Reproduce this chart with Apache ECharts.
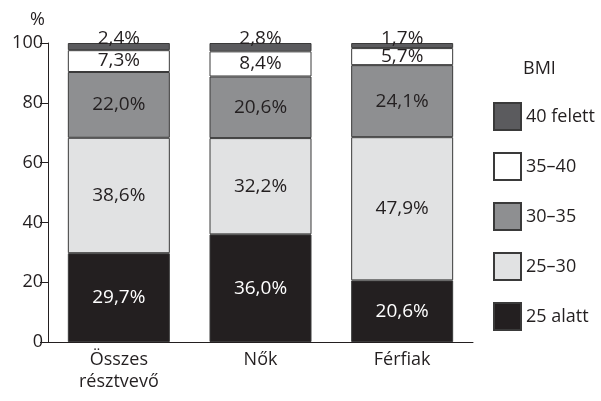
<!DOCTYPE html>
<html>
<head>
<meta charset="utf-8">
<script src="https://cdn.jsdelivr.net/npm/echarts@6/dist/echarts.min.js"></script>
<style>
  html, body { margin: 0; padding: 0; background: #fff; }
  #main { width: 601px; height: 401px; }
</style>
</head>
<body>
<div id="main"></div>
<script>
var categories = ['Összes\nrésztvevő', 'Nők', 'Férfiak'];
var alatt25 = [29.7, 36.0, 20.6];
var bmi25_30 = [38.6, 32.2, 47.9];
var bmi30_35 = [22.0, 20.6, 24.1];
var bmi35_40 = [7.3, 8.4, 5.7];
var felett40 = [2.4, 2.8, 1.7];
var yTicks = [0, 20, 40, 60, 80, 100];

var ink = '#231f20';
var font = 'Open Sans';
var fs = 18;

function fmt(p) {
  return p.value.toFixed(1).replace('.', ',') + '%';
}

function makeSeries(name, data, color, textColor, top) {
  return {
    name: name,
    type: 'bar',
    stack: 'bmi',
    data: data,
    barWidth: 102,
    itemStyle: { color: color, borderColor: '#3a3a3a', borderWidth: 1 },
    label: {
      show: true,
      position: top ? 'top' : 'inside',
      distance: top ? -5 : 5,
      formatter: fmt,
      color: textColor,
      fontFamily: font,
      fontSize: 19
    }
  };
}

var myChart = echarts.init(document.getElementById('main'));
var option = {
  animation: false,
  textStyle: { fontFamily: font, color: ink },
  grid: { left: 48, right: 128, top: 43, bottom: 59 },
  legend: {
    orient: 'vertical',
    left: 488,
    top: 97,
    icon: 'rect',
    itemWidth: 27,
    itemHeight: 27,
    itemGap: 21,
    textStyle: { fontFamily: font, fontSize: fs, color: ink },
    data: ['40 felett', '35–40', '30–35', '25–30', '25 alatt']
  },
  graphic: [{
    type: 'text',
    left: 523,
    top: 60,
    style: { text: 'BMI', font: fs + 'px "Open Sans"', fill: ink }
  }],
  xAxis: {
    type: 'category',
    data: categories,
    axisLine: { lineStyle: { color: ink, width: 1 } },
    axisTick: { inside: true, length: 6, lineStyle: { color: ink } },
    axisLabel: { color: ink, fontSize: fs, fontFamily: font, margin: 7, lineHeight: 22 }
  },
  yAxis: {
    type: 'value',
    min: yTicks[0],
    max: yTicks[yTicks.length - 1],
    interval: 20,
    name: '%',
    nameLocation: 'end',
    nameGap: 14,
    nameTextStyle: { color: ink, fontSize: fs, fontFamily: font, align: 'right', padding: [0, 3, 0, 0] },
    axisLine: { show: true, lineStyle: { color: ink, width: 1 } },
    axisTick: { show: true, length: 8, lineStyle: { color: ink } },
    axisLabel: { color: ink, fontSize: fs, fontFamily: font, margin: 5 },
    splitLine: { show: false }
  },
  series: [
    makeSeries('25 alatt', alatt25, '#231f20', '#ffffff', false),
    makeSeries('25–30', bmi25_30, '#e1e2e3', ink, false),
    makeSeries('30–35', bmi30_35, '#8e8f91', ink, false),
    makeSeries('35–40', bmi35_40, '#ffffff', ink, false),
    makeSeries('40 felett', felett40, '#5b5b5e', ink, true)
  ]
};
myChart.setOption(option);
</script>
</body>
</html>
